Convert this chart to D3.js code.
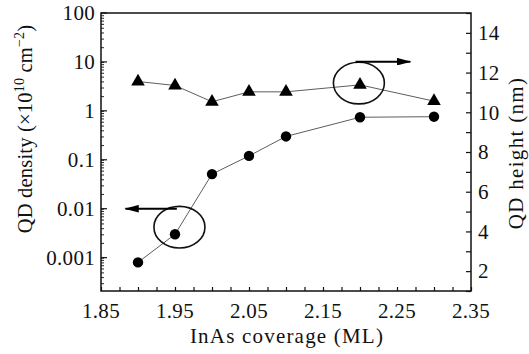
<!DOCTYPE html>
<html>
<head>
<meta charset="utf-8">
<script src="https://cdn.jsdelivr.net/npm/d3@7"></script>
<style>
  body { margin: 0; background: #fff; }
</style>
</head>
<body>
<div id="chart"></div>
<script>
const coverage = [1.90, 1.95, 2.00, 2.05, 2.10, 2.20, 2.30];
const density = [0.0008, 0.003, 0.051, 0.12, 0.30, 0.74, 0.76];
const height = [11.55, 11.35, 10.53, 11.03, 11.03, 11.38, 10.56];
const xTicks = [1.85, 1.95, 2.05, 2.15, 2.25, 2.35];
const densityTicks = [0.001, 0.01, 0.1, 1, 10, 100];
const densityTickLabels = ["0.001", "0.01", "0.1", "1", "10", "100"];
const heightTicks = [2, 4, 6, 8, 10, 12, 14];

const size = {width: 529, height: 354};
const margin = {top: 13, right: 58, bottom: 63, left: 101};
const ink = "#111";
const serif = "'Liberation Serif'";

const svg = d3.select("#chart")
  .append("svg")
  .attr("width", size.width)
  .attr("height", size.height)
  .style("font-family", serif);

const x = d3.scaleLinear()
  .domain([1.85, 2.35])
  .range([margin.left, size.width - margin.right]);

const yLeft = d3.scaleLog()
  .domain([0.000208, 100])
  .range([size.height - margin.bottom, margin.top]);

const yRight = d3.scaleLinear()
  .domain([1, 15])
  .range([size.height - margin.bottom, margin.top]);

const plotW = size.width - margin.left - margin.right;
const plotH = size.height - margin.top - margin.bottom;

// minor ticks
const xMinor = d3.range(1.85, 2.3501, 0.025);
const logMinor = [];
for (let e = -4; e <= 1; e++) {
  for (let m = 1; m <= 9; m++) {
    const v = m * Math.pow(10, e);
    if (v >= yLeft.domain()[0] && v <= 100) logMinor.push(v);
  }
}
const rightMinor = d3.range(1, 15.01, 1);

function label(sel, fontSize = 21, spacing = 0.3) {
  return sel
    .style("font-family", serif)
    .style("font-size", fontSize + "px")
    .style("letter-spacing", spacing + "px")
    .attr("fill", ink);
}

const bottomAxis = svg.append("g")
  .attr("transform", `translate(0,${size.height - margin.bottom})`);
bottomAxis.call(d3.axisBottom(x).tickValues(xMinor).tickSize(-4).tickFormat(""));
bottomAxis.call(g => g.select(".domain").remove());
bottomAxis.attr("font-family", null);
bottomAxis.selectAll("line").attr("stroke", ink).attr("stroke-width", 1.2);
bottomAxis.selectAll(".label")
  .data(xTicks)
  .join("text")
  .attr("class", "label")
  .attr("x", d => x(d))
  .attr("y", 27)
  .attr("text-anchor", "middle")
  .call(label)
  .text(d => d.toFixed(2));

const leftAxis = svg.append("g")
  .attr("transform", `translate(${margin.left},0)`);
leftAxis.call(d3.axisLeft(yLeft).tickValues(logMinor).tickSize(-3).tickFormat(""));
leftAxis.call(g => g.select(".domain").remove());
leftAxis.attr("font-family", null);
leftAxis.selectAll("line").attr("stroke", ink).attr("stroke-width", 0.9);
leftAxis.selectAll(".major")
  .data(densityTicks)
  .join("line")
  .attr("class", "major")
  .attr("x1", 0).attr("x2", 6)
  .attr("y1", d => yLeft(d)).attr("y2", d => yLeft(d))
  .attr("stroke", ink).attr("stroke-width", 1.2);
leftAxis.selectAll(".label")
  .data(densityTicks)
  .join("text")
  .attr("class", "label")
  .attr("x", -6)
  .attr("y", d => yLeft(d))
  .attr("dy", "0.35em")
  .attr("text-anchor", "end")
  .call(label)
  .text((d, i) => densityTickLabels[i]);

const rightAxis = svg.append("g")
  .attr("transform", `translate(${size.width - margin.right},0)`);
rightAxis.call(d3.axisRight(yRight).tickValues(rightMinor).tickSize(-5).tickFormat(""));
rightAxis.call(g => g.select(".domain").remove());
rightAxis.attr("font-family", null);
rightAxis.selectAll("line").attr("stroke", ink).attr("stroke-width", 1.2);
rightAxis.selectAll(".label")
  .data(heightTicks)
  .join("text")
  .attr("class", "label")
  .attr("x", 7)
  .attr("y", d => yRight(d))
  .attr("dy", "0.35em")
  .call(label)
  .text(d => d);

svg.append("rect")
  .attr("x", margin.left)
  .attr("y", margin.top)
  .attr("width", plotW)
  .attr("height", plotH)
  .attr("fill", "none")
  .attr("stroke", ink)
  .attr("stroke-width", 1.5);

// axis titles
svg.append("text")
  .attr("x", margin.left + plotW / 2 + 1)
  .attr("y", size.height - 11)
  .attr("text-anchor", "middle")
  .call(label, 21, 1.2)
  .text("InAs coverage (ML)");

const leftTitle = svg.append("text")
  .attr("transform", "translate(32,129) rotate(-90)")
  .attr("text-anchor", "middle")
  .call(label, 20.5, 0.2);
leftTitle.append("tspan").text("QD density (×10");
leftTitle.append("tspan").style("font-size", "14px").attr("dy", -8).text("10");
leftTitle.append("tspan").attr("dy", 8).text(" cm");
leftTitle.append("tspan").style("font-size", "14px").attr("dy", -8).text("−2");
leftTitle.append("tspan").attr("dy", 8).text(")");

svg.append("text")
  .attr("transform", "translate(523,153) rotate(-90)")
  .attr("text-anchor", "middle")
  .call(label, 21, 1.3)
  .text("QD height (nm)");

// series
const densityPoints = coverage.map((c, i) => ({x: c, y: density[i]}));
const heightPoints = coverage.map((c, i) => ({x: c, y: height[i]}));

svg.append("path")
  .datum(densityPoints)
  .attr("fill", "none")
  .attr("stroke", "#333")
  .attr("stroke-width", 0.8)
  .attr("d", d3.line().x(d => x(d.x)).y(d => yLeft(d.y)));

svg.append("path")
  .datum(heightPoints)
  .attr("fill", "none")
  .attr("stroke", "#333")
  .attr("stroke-width", 0.8)
  .attr("d", d3.line().x(d => x(d.x)).y(d => yRight(d.y)));

svg.selectAll(".dot")
  .data(densityPoints)
  .join("circle")
  .attr("class", "dot")
  .attr("cx", d => x(d.x))
  .attr("cy", d => yLeft(d.y))
  .attr("r", 5.2)
  .attr("fill", "#000");

svg.selectAll(".tri")
  .data(heightPoints)
  .join("path")
  .attr("class", "tri")
  .attr("transform", d => `translate(${x(d.x)},${yRight(d.y)})`)
  .attr("d", d3.symbol(d3.symbolTriangle, 80))
  .attr("fill", "#000");

// annotations: ellipses with arrows pointing to their axis
svg.append("defs").append("marker")
  .attr("id", "arrowhead")
  .attr("viewBox", "0 -4 15 8")
  .attr("refX", 14)
  .attr("refY", 0)
  .attr("markerWidth", 7.5)
  .attr("markerHeight", 3.8)
  .attr("markerUnits", "strokeWidth")
  .attr("orient", "auto")
  .append("path")
  .attr("d", "M0,-4L15,0L0,4Z")
  .attr("fill", "#000");

const notes = [
  {cx: 1.956, cy: yLeft(0.0042), from: [1.9525, yLeft(0.01)], to: [1.883, yLeft(0.01)]},
  {cx: 2.1985, cy: yRight(11.47), from: [2.194, yRight(12.55)], to: [2.268, yRight(12.55)]}
];

svg.selectAll(".ring")
  .data(notes)
  .join("ellipse")
  .attr("class", "ring")
  .attr("cx", d => x(d.cx))
  .attr("cy", d => d.cy)
  .attr("rx", 25.5)
  .attr("ry", 20.8)
  .attr("fill", "none")
  .attr("stroke", ink)
  .attr("stroke-width", 1.6);

svg.selectAll(".arrow")
  .data(notes)
  .join("line")
  .attr("class", "arrow")
  .attr("x1", d => x(d.from[0]))
  .attr("y1", d => d.from[1])
  .attr("x2", d => x(d.to[0]))
  .attr("y2", d => d.to[1])
  .attr("stroke", "#000")
  .attr("stroke-width", 2)
  .attr("marker-end", "url(#arrowhead)");
</script>
</body>
</html>
